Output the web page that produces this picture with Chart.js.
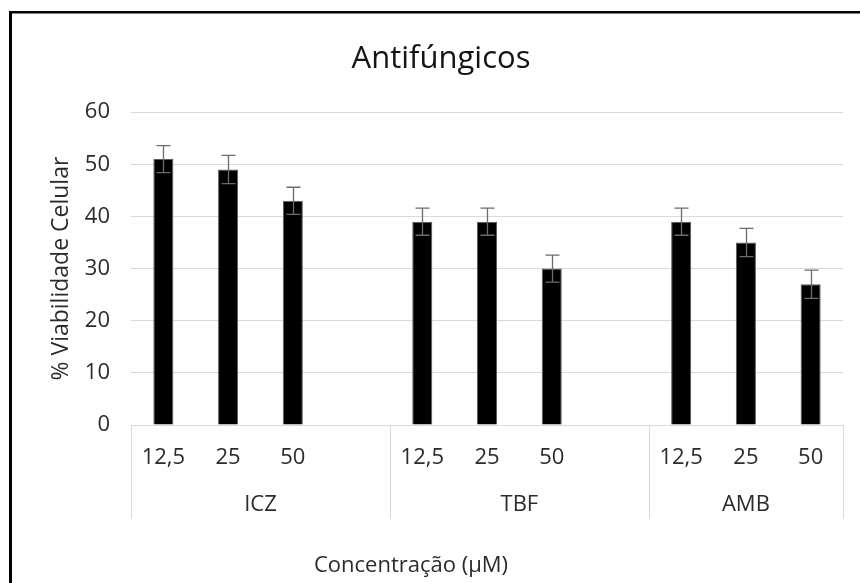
<!DOCTYPE html>
<html>
<head>
<meta charset="utf-8">
<title>Antifúngicos</title>
<script src="https://cdn.jsdelivr.net/npm/chart.js@4/dist/chart.umd.min.js"></script>
<style>
  html, body { margin: 0; padding: 0; background: #fff; }
  #wrap { width: 860px; height: 583px; position: relative; }
</style>
</head>
<body>
<div id="wrap"><canvas id="chart" width="860" height="583"></canvas></div>
<script>
// Drug groups and tested concentrations (µM)
const groups = ['ICZ', 'TBF', 'AMB'];
const concentrations = ['12,5', '25', '50'];

// Mean cell viability (%) per concentration
const viabilityICZ = [51, 49, 43];
const viabilityTBF = [39, 39, 30];
const viabilityAMB = [39, 35, 27];

// Error (±) per concentration
const errorICZ = [2.6, 2.7, 2.6];
const errorTBF = [2.6, 2.6, 2.6];
const errorAMB = [2.6, 2.7, 2.7];

// Value axis
const yMin = 0;
const yMax = 60;
const yStep = 10;

const chartTitle = 'Antifúngicos';
const yTitle = '% Viabilidade Celular';
const xTitle = 'Concentração (µM)';

// Flatten groups into one category axis; an empty slot follows each group but the last
const groupValues = [viabilityICZ, viabilityTBF, viabilityAMB];
const groupErrors = [errorICZ, errorTBF, errorAMB];
const labels = [];
const values = [];
const errors = [];
const groupSlots = [];
groups.forEach((g, gi) => {
  const start = labels.length;
  concentrations.forEach((c, ci) => {
    labels.push(c);
    values.push(groupValues[gi][ci]);
    errors.push(groupErrors[gi][ci]);
  });
  if (gi < groups.length - 1) {
    labels.push('');
    values.push(null);
    errors.push(null);
  }
  groupSlots.push([start, labels.length - 1]);
});

const FONT = "'Open Sans', 'Noto Sans', sans-serif";
const TEXT = '#2b2b2b';
const GRID = '#d9d9d9';

// Outer frame and white background
const framePlugin = {
  id: 'frame',
  beforeDraw(chart) {
    const ctx = chart.ctx;
    ctx.save();
    ctx.fillStyle = '#fff';
    ctx.fillRect(0, 0, chart.width, chart.height);
    ctx.restore();
  },
  afterDraw(chart) {
    const ctx = chart.ctx;
    ctx.save();
    ctx.fillStyle = '#000';
    ctx.fillRect(9, 11, 3, chart.height - 11);
    ctx.fillRect(9, 11, chart.width - 9, 2.5);
    ctx.restore();
  }
};

// Error bars with caps, from the same values as the bars
const errorBarPlugin = {
  id: 'errorBars',
  afterDatasetsDraw(chart) {
    const ctx = chart.ctx;
    const xs = chart.scales.x, ys = chart.scales.y;
    ctx.save();
    ctx.strokeStyle = '#6b6b6b';
    ctx.lineWidth = 1.3;
    values.forEach((v, i) => {
      if (v == null) return;
      const e = errors[i];
      const px = Math.round(xs.getPixelForValue(i)) + 0.5;
      const top = ys.getPixelForValue(v + e);
      const bot = ys.getPixelForValue(v - e);
      const cap = 7;
      ctx.beginPath();
      ctx.moveTo(px, top); ctx.lineTo(px, bot);
      ctx.moveTo(px - cap, top); ctx.lineTo(px + cap, top);
      ctx.moveTo(px - cap, bot); ctx.lineTo(px + cap, bot);
      ctx.stroke();
    });
    ctx.restore();
  }
};

// Second level of the category axis: group dividers and group names,
// plus the horizontal axis title
const groupAxisPlugin = {
  id: 'groupAxis',
  afterDraw(chart) {
    const ctx = chart.ctx;
    const xs = chart.scales.x;
    const area = chart.chartArea;
    const half = (xs.getPixelForValue(1) - xs.getPixelForValue(0)) / 2;
    const lineBottom = area.bottom + 94;
    ctx.save();
    ctx.strokeStyle = GRID;
    ctx.lineWidth = 1;
    const edges = [];
    groupSlots.forEach(([s, e], gi) => {
      const left = xs.getPixelForValue(s) - half;
      const right = xs.getPixelForValue(e) + half;
      if (gi === 0) edges.push(left);
      edges.push(right);
      ctx.fillStyle = TEXT;
      ctx.font = '22px ' + FONT;
      ctx.textAlign = 'center';
      ctx.textBaseline = 'middle';
      ctx.fillText(groups[gi], (left + right) / 2, area.bottom + 80);
    });
    edges.forEach(x => {
      const px = Math.round(x) + 0.5;
      ctx.beginPath();
      ctx.moveTo(px, area.bottom);
      ctx.lineTo(px, lineBottom);
      ctx.stroke();
    });
    ctx.fillStyle = TEXT;
    ctx.font = '22px ' + FONT;
    ctx.textAlign = 'center';
    ctx.textBaseline = 'middle';
    ctx.fillText(xTitle, 411, area.bottom + 141);
    ctx.restore();
  }
};

new Chart(document.getElementById('chart'), {
  type: 'bar',
  data: {
    labels: labels,
    datasets: [{
      data: values,
      backgroundColor: '#000',
      borderColor: '#5a5a5a',
      borderWidth: 1,
      barPercentage: 0.31,
      categoryPercentage: 1.0
    }]
  },
  options: {
    responsive: false,
    animation: false,
    events: [],
    layout: { padding: { left: 22, right: 0, top: 0, bottom: 0 } },
    plugins: {
      legend: { display: false },
      tooltip: { enabled: false },
      title: {
        display: true,
        text: chartTitle,
        color: '#141414',
        font: { family: FONT, size: 31, weight: 'normal', lineHeight: 1.2 },
        padding: { top: 41, bottom: 34 }
      }
    },
    scales: {
      x: {
        type: 'category',
        offset: true,
        grid: { display: false, drawTicks: false },
        border: { display: true, color: GRID, width: 1 },
        ticks: {
          color: TEXT,
          font: { family: FONT, size: 22 },
          padding: 20,
          autoSkip: false,
          maxRotation: 0
        },
        afterFit(scale) { scale.height = 158; }
      },
      y: {
        min: yMin,
        max: yMax,
        ticks: {
          stepSize: yStep,
          color: TEXT,
          font: { family: FONT, size: 22 },
          padding: 21
        },
        grid: { color: GRID, lineWidth: 1, drawTicks: false },
        border: { display: false },
        title: {
          display: true,
          text: yTitle,
          color: TEXT,
          font: { family: FONT, size: 23, lineHeight: 1.2 },
          padding: { top: 26, bottom: 0 }
        },
        afterFit(scale) { scale.width = 109; }
      },
      // empty right-hand margin inside the frame
      yRight: {
        position: 'right',
        display: true,
        grid: { display: false, drawTicks: false },
        border: { display: false },
        ticks: { display: false },
        afterFit(scale) { scale.width = 17; }
      }
    }
  },
  plugins: [framePlugin, errorBarPlugin, groupAxisPlugin]
});
</script>
</body>
</html>
